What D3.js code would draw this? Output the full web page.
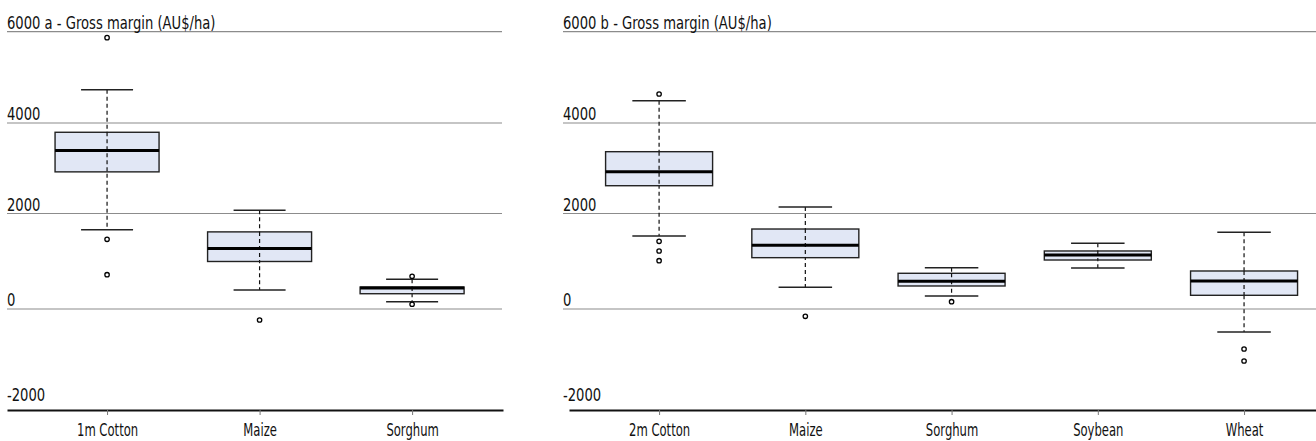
<!DOCTYPE html>
<html>
<head>
<script src="https://d3js.org/d3.v7.min.js"></script>
  <style type="text/css">
    body {
      margin: 0;
      background: #fff;
      font-family: 'DejaVu Sans Condensed', sans-serif;
    }
    .grid line {
      stroke: #8c8c8c;
      stroke-width: 1.2;
    }
    .label {
      font-size: 17px;
      fill: #111;
    }
    .xaxis .domain {
      stroke: #111;
      stroke-width: 2;
    }
    .xaxis .tick line {
      stroke: #777;
    }
    .xaxis .tick text {
      font-family: 'DejaVu Sans Condensed', sans-serif;
      font-size: 17px;
      fill: #111;
    }
    .box rect {
      fill: #e1e7f5;
      stroke: #222;
      stroke-width: 1.4;
    }
    .median {
      stroke: #000;
      stroke-width: 3;
    }
    .whisker {
      stroke: #111;
      stroke-width: 1.2;
      stroke-dasharray: 4,3;
    }
    .cap {
      stroke: #222;
      stroke-width: 1.5;
    }
    .outlier {
      fill: #fff;
      stroke: #000;
      stroke-width: 1.3;
    }
  </style>
</head>
<body>
<script type="text/javascript">

  // panel a
  var catsA = ["1m Cotton", "Maize", "Sorghum"];
  var lowA  = [1660, 400, 150];
  var q1A   = [2920, 995, 320];
  var medA  = [3390, 1265, 440];
  var q3A   = [3795, 1615, 460];
  var highA = [4730, 2070, 622];
  var outA  = [[5870, 1460, 718], [-232], [685, 100]];

  // panel b
  var catsB = ["2m Cotton", "Maize", "Sorghum", "Soybean", "Wheat"];
  var lowB  = [1530, 457, 272, 859, -484];
  var q1B   = [2614, 1075, 482, 1026, 287];
  var medB  = [2924, 1334, 580, 1131, 586];
  var q3B   = [3366, 1675, 748, 1215, 796];
  var highB = [4488, 2144, 865, 1376, 1606];
  var outB  = [[4635, 1418, 1215, 1012], [-154], [153], [], [-842, -1095]];

  var yTicks = [-2000, 0, 2000, 4000, 6000];
  var gridTicks = [0, 2000, 4000, 6000];
  var titleA = " a - Gross margin (AU$/ha)";
  var titleB = " b - Gross margin (AU$/ha)";

  var svg = d3.select("body").append("svg")
      .attr("width", 1316)
      .attr("height", 441);

  // the scanned axis is not quite even, so follow the gridlines
  var y = d3.scaleLinear()
      .domain([-2000, 0, 2000, 4000, 6000])
      .range([404, 309, 213.5, 123, 31.7]);

  function panel(p) {
    var g = svg.append("g");

    var rows = p.cats.map(function(c, i) {
      return {cat: c, low: p.low[i], q1: p.q1[i], med: p.med[i], q3: p.q3[i], high: p.high[i], out: p.out[i]};
    });

    var x = d3.scalePoint()
        .domain(p.cats)
        .range([p.axisX0, p.axisX1])
        .padding(p.pad)
        .align(p.align);

    g.append("g").attr("class", "grid")
      .selectAll("line")
      .data(gridTicks)
      .enter().append("line")
        .attr("x1", p.gridX0)
        .attr("x2", p.gridX1)
        .attr("y1", function(d) { return y(d); })
        .attr("y2", function(d) { return y(d); });

    // condensed look: squeeze the text sideways
    g.selectAll(".label")
      .data(yTicks)
      .enter().append("text")
        .attr("class", "label")
        .attr("transform", function(d) { return "translate(" + p.gridX0 + "," + (y(d) - 3) + ") scale(0.86,1)"; })
        .text(function(d) { return d === 6000 ? d + p.title : d; });

    g.append("g").attr("class", "xaxis")
      .attr("transform", "translate(0," + 410 + ")")
      .call(d3.axisBottom(x).tickSize(5).tickSizeOuter(0).tickPadding(9))
      .selectAll(".tick text")
        .attr("transform", "scale(0.76,1)");

    var box = g.selectAll(".box")
      .data(rows)
      .enter().append("g").attr("class", "box");

    box.append("line")
      .attr("class", "whisker")
      .attr("x1", function(d) { return x(d.cat); })
      .attr("x2", function(d) { return x(d.cat); })
      .attr("y1", function(d) { return y(d.high); })
      .attr("y2", function(d) { return y(d.low); });

    box.append("rect")
      .attr("x", function(d) { return x(d.cat) - p.boxW / 2; })
      .attr("width", p.boxW)
      .attr("y", function(d) { return y(d.q3); })
      .attr("height", function(d) { return y(d.q1) - y(d.q3); });

    // dashed line shows through the box
    box.append("line")
      .attr("class", "whisker")
      .attr("x1", function(d) { return x(d.cat); })
      .attr("x2", function(d) { return x(d.cat); })
      .attr("y1", function(d) { return y(d.q3); })
      .attr("y2", function(d) { return y(d.q1); });

    box.append("line")
      .attr("class", "median")
      .attr("x1", function(d) { return x(d.cat) - p.boxW / 2; })
      .attr("x2", function(d) { return x(d.cat) + p.boxW / 2; })
      .attr("y1", function(d) { return y(d.med); })
      .attr("y2", function(d) { return y(d.med); });

    ["high", "low"].forEach(function(k) {
      box.append("line")
        .attr("class", "cap")
        .attr("x1", function(d) { return x(d.cat) - p.boxW / 4; })
        .attr("x2", function(d) { return x(d.cat) + p.boxW / 4; })
        .attr("y1", function(d) { return y(d[k]); })
        .attr("y2", function(d) { return y(d[k]); });
    });

    box.selectAll(".outlier")
      .data(function(d) { return d.out.map(function(v) { return {cat: d.cat, v: v}; }); })
      .enter().append("circle")
        .attr("class", "outlier")
        .attr("r", 2.2)
        .attr("cx", function(d) { return x(d.cat); })
        .attr("cy", function(d) { return y(d.v); });
  }

  panel({cats: catsA, low: lowA, q1: q1A, med: medA, q3: q3A, high: highA, out: outA,
         title: titleA, gridX0: 7, gridX1: 502, axisX0: 7, axisX1: 503,
         pad: 0.626, align: 0.524, boxW: 104});

  panel({cats: catsB, low: lowB, q1: q1B, med: medB, q3: q3B, high: highB, out: outB,
         title: titleB, gridX0: 563, gridX1: 1316, axisX0: 569, axisX1: 1316,
         pad: 0.554, align: 0.556, boxW: 107});

</script>
</body>
</html>
